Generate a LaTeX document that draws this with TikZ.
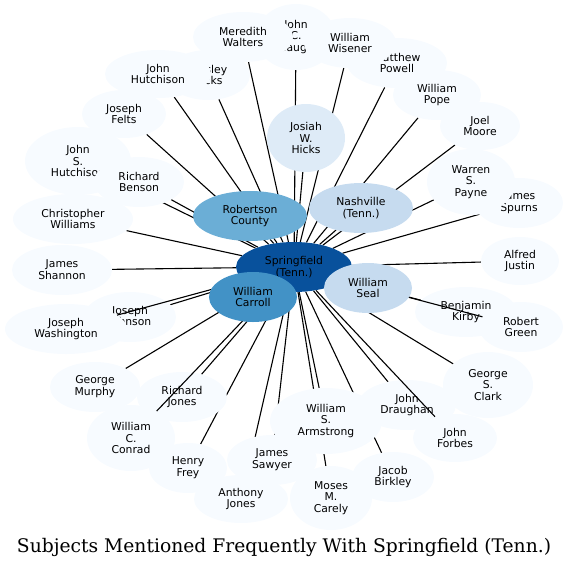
\documentclass[tikz,border=0pt]{standalone}
\usepackage{fontspec}
\setmainfont{DejaVu Sans}
\newfontfamily\titlefont{DejaVu Serif}
\usetikzlibrary{shapes.geometric}
\definecolor{leafc}{HTML}{F7FBFF}
\definecolor{c1}{HTML}{08519C}
\definecolor{c2}{HTML}{4292C6}
\definecolor{c3}{HTML}{6BAED6}
\definecolor{c4}{HTML}{C6DBEF}
\definecolor{c5}{HTML}{DEEBF7}
\tikzset{
  gv/.style={ellipse, inner sep=0pt, align=center, font=\fontsize{10.8}{11.8}\selectfont},
  leaf/.style={gv, fill=leafc},
  sz/.style 2 args={minimum width=#1*2pt, minimum height=#2*2pt},
  conn/.style={draw=black, line width=1.1pt}
}
\begin{document}
\begin{tikzpicture}[x=1pt,y=-1pt]
\useasboundingbox (0,0) rectangle (569,568);
\path
 (294,267) coordinate (pspr)
 (296,37) coordinate (pgau) (243,37) coordinate (pmer) (397,63) coordinate (ppow)
 (350,43) coordinate (pwis) (437,95) coordinate (ppop) (480,126) coordinate (pjoe)
 (519,203) coordinate (pspu) (471,182) coordinate (ppay) (520,261) coordinate (palf)
 (466,312) coordinate (pkir) (521,327) coordinate (pgre) (488,385) coordinate (pcla)
 (407,405) coordinate (pdra) (455,438) coordinate (pfor) (393,477) coordinate (pbir)
 (326,421) coordinate (parm) (331,498) coordinate (pcar) (272,460) coordinate (psaw)
 (241,499) coordinate (pant) (188,468) coordinate (pfre) (131,438) coordinate (pcon)
 (182,397) coordinate (prjo) (95,387) coordinate (pmur) (130,317) coordinate (pjoh)
 (66,329) coordinate (pwas) (62,270) coordinate (psha) (73,219) coordinate (pchr)
 (78,161) coordinate (pjsh) (139,182) coordinate (pben) (124,114) coordinate (pfel)
 (208,75) coordinate (phic) (158,74) coordinate (pjhu);
% invisible shapes, used to clip the connectors at the borders
\begin{scope}[every node/.style={gv}]
 \node[sz={58}{25}] (spr) at (pspr) {};
 \node[sz={40}{33}] (gau) at (pgau) {};
 \node[sz={50}{25}] (mer) at (pmer) {};
 \node[sz={50}{25}] (pow) at (ppow) {};
 \node[sz={46}{25}] (wis) at (pwis) {};
 \node[sz={44}{25}] (pop) at (ppop) {};
 \node[sz={40}{24}] (joe) at (pjoe) {};
 \node[sz={44}{25}] (spu) at (pspu) {};
 \node[sz={44}{33}] (pay) at (ppay) {};
 \node[sz={39}{24}] (alf) at (palf) {};
 \node[sz={51}{25}] (kir) at (pkir) {};
 \node[sz={42}{25}] (gre) at (pgre) {};
 \node[sz={45}{33}] (cla) at (pcla) {};
 \node[sz={49}{25}] (dra) at (pdra) {};
 \node[sz={42}{24}] (for) at (pfor) {};
 \node[sz={41}{25}] (bir) at (pbir) {};
 \node[sz={56}{33}] (arm) at (parm) {};
 \node[sz={41}{32}] (car) at (pcar) {};
 \node[sz={45}{25}] (saw) at (psaw) {};
 \node[sz={47}{24}] (ant) at (pant) {};
 \node[sz={39}{25}] (fre) at (pfre) {};
 \node[sz={44}{33}] (con) at (pcon) {};
 \node[sz={45}{25}] (rjo) at (prjo) {};
 \node[sz={45}{25}] (mur) at (pmur) {};
 \node[sz={46}{25}] (joh) at (pjoh) {};
 \node[sz={61}{25}] (was) at (pwas) {};
 \node[sz={50}{25}] (sha) at (psha) {};
 \node[sz={60}{25}] (chr) at (pchr) {};
 \node[sz={53}{34}] (jsh) at (pjsh) {};
 \node[sz={45}{25}] (ben) at (pben) {};
 \node[sz={42}{24}] (fel) at (pfel) {};
 \node[sz={42}{25}] (hic) at (phic) {};
 \node[sz={53}{24}] (jhu) at (pjhu) {};
 \node[sz={57}{25}] (rob) at (250,216) {};
 \node[sz={52}{25}] (nas) at (361,208) {};
 \node[sz={39}{34}] (jos) at (306,138) {};
 \node[sz={44}{25}] (cal) at (253,297) {};
 \node[sz={44}{25}] (sea) at (368,288) {};
\end{scope}
% connectors that lie under the subject ellipses
\foreach \t in {gau,mer,pow,wis,pop,joe,spu,pay,alf,kir,cla,dra,bir,arm,car,saw,ant,fre,rjo,mur,joh,sha,chr,jsh,ben,fel,hic,jhu,rob,nas,jos,cal,sea}
  \draw[conn] (spr) -- (\t);
% subject ellipses
\node[leaf,sz={40}{33}] (gauL) at (pgau) {John\\C.\\Gaugh};
\node[leaf,sz={50}{25}] (powL) at (ppow) {Matthew\\Powell};
\node[leaf,sz={50}{25}] (merL) at (pmer) {Meredith\\Walters};
\node[leaf,sz={46}{25}] (wisL) at (pwis) {William\\Wisener};
\node[leaf,sz={44}{25}] (popL) at (ppop) {William\\Pope};
\node[leaf,sz={40}{24}] (joeL) at (pjoe) {Joel\\Moore};
\node[leaf,sz={44}{25}] (spuL) at (pspu) {James\\Spurns};
\node[leaf,sz={44}{33}] (payL) at (ppay) {Warren\\S.\\Payne};
\node[leaf,sz={39}{24}] (alfL) at (palf) {Alfred\\Justin};
\node[leaf,sz={51}{25}] (kirL) at (pkir) {Benjamin\\Kirby};
\node[leaf,sz={42}{25}] (greL) at (pgre) {Robert\\Green};
\node[leaf,sz={45}{33}] (claL) at (pcla) {George\\S.\\Clark};
\node[leaf,sz={49}{25}] (draL) at (pdra) {John\\Draughan};
\node[leaf,sz={42}{24}] (forL) at (pfor) {John\\Forbes};
\node[leaf,sz={41}{25}] (birL) at (pbir) {Jacob\\Birkley};
\node[leaf,sz={56}{33}] (armL) at (parm) {William\\S.\\Armstrong};
\node[leaf,sz={41}{32}] (carL) at (pcar) {Moses\\M.\\Carely};
\node[leaf,sz={45}{25}] (sawL) at (psaw) {James\\Sawyer};
\node[leaf,sz={47}{24}] (antL) at (pant) {Anthony\\Jones};
\node[leaf,sz={39}{25}] (freL) at (pfre) {Henry\\Frey};
\node[leaf,sz={44}{33}] (conL) at (pcon) {William\\C.\\Conrad};
\node[leaf,sz={45}{25}] (rjoL) at (prjo) {Richard\\Jones};
\node[leaf,sz={45}{25}] (murL) at (pmur) {George\\Murphy};
\node[leaf,sz={46}{25}] (johL) at (pjoh) {Joseph\\Johnson};
\node[leaf,sz={61}{25}] (wasL) at (pwas) {Joseph\\Washington};
\node[leaf,sz={50}{25}] (shaL) at (psha) {James\\Shannon};
\node[leaf,sz={60}{25}] (chrL) at (pchr) {Christopher\\Williams};
\node[leaf,sz={53}{34}] (jshL) at (pjsh) {John\\S.\\Hutchison};
\node[leaf,sz={45}{25}] (benL) at (pben) {Richard\\Benson};
\node[leaf,sz={42}{24}] (felL) at (pfel) {Joseph\\Felts};
\node[leaf,sz={42}{25}] (hicL) at (phic) {Wesley\\Hicks};
\node[leaf,sz={53}{24}] (jhuL) at (pjhu) {John\\Hutchison};
% connectors drawn over other subjects
\foreach \t in {gre,for,con,was}
  \draw[conn] (spr) -- (\t);
% central subjects
\node[gv,fill=c5,sz={39}{34}] at (jos) {Josiah\\W.\\Hicks};
\node[gv,fill=c3,sz={57}{25}] at (rob) {Robertson\\County};
\node[gv,fill=c4,sz={52}{25}] at (nas) {Nashville\\(Tenn.)};
\node[gv,fill=c1,sz={58}{25}] at (spr) {Springfield\\(Tenn.)};
\node[gv,fill=c2,sz={44}{25}] at (cal) {William\\Carroll};
\node[gv,fill=c4,sz={44}{25}] at (sea) {William\\Seal};
% title
\node[inner sep=0pt, anchor=base] (title) at (284,552)
  {\resizebox{534pt}{!}{\titlefont Subjects Mentioned Frequently With Springfield (Tenn.)}};
\end{tikzpicture}
\end{document}
